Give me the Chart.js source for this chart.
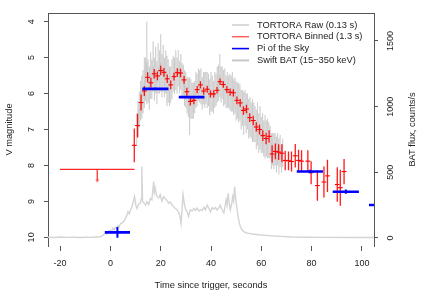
<!DOCTYPE html>
<html><head><meta charset="utf-8">
<script src="https://cdn.jsdelivr.net/npm/chart.js@4.4.1/dist/chart.umd.min.js"></script>
<style>html,body{margin:0;padding:0;background:#fff;}canvas{display:block;}</style>
</head><body>
<canvas id="c" width="427" height="291"></canvas>
<script>
// ---------------- data ----------------
const xTickValues   = [-20, 0, 20, 40, 60, 80, 100];
const magTickValues = [4, 5, 6, 7, 8, 9, 10];
const batTickValues = [0, 500, 1000, 1500];

// TORTORA binned (1.3 s)
const binnedTime = [9.5,10.8,12.2,13.5,14.8,16.1,17.4,18.7,20.0,21.3,22.6,24.0,25.3,26.6,27.9,29.3,30.4,31.8,33.2,34.5,35.8,37.1,38.5,39.8,41.1,42.4,43.6,44.9,46.3,47.6,48.9,50.3,51.6,52.9,54.1,55.4,56.8,58.0,59.3,60.6,61.9,63.1,64.3,65.6,66.9,68.2,69.5,70.8,72.0,73.5,74.8,76.0,78.5,79.8,82.3,84.9,86.3,90.2,91.4,92.9];
const binnedMag  = [7.44,6.89,6.25,5.93,5.55,5.70,5.45,5.51,5.36,5.41,5.59,5.76,5.53,5.42,5.43,5.62,5.95,6.22,6.19,5.89,5.76,5.93,5.88,6.01,6.01,5.91,5.67,5.75,5.89,5.96,5.98,6.19,6.26,6.47,6.43,6.67,6.75,6.93,7.00,7.17,7.25,7.19,7.68,7.61,7.63,7.66,7.86,7.87,7.89,7.73,7.86,7.88,7.88,8.20,8.56,8.46,8.29,8.53,8.62,8.17];
const binnedErr  = [0.47,0.33,0.22,0.14,0.14,0.13,0.13,0.12,0.13,0.12,0.12,0.12,0.11,0.12,0.12,0.11,0.11,0.11,0.11,0.10,0.10,0.10,0.10,0.10,0.10,0.09,0.09,0.09,0.10,0.10,0.10,0.11,0.11,0.12,0.12,0.12,0.13,0.13,0.14,0.15,0.16,0.17,0.24,0.22,0.22,0.25,0.27,0.26,0.28,0.33,0.30,0.30,0.30,0.32,0.42,0.43,0.45,0.48,0.50,0.35];

// TORTORA upper limit before the flash
const limitFrom = [-20];
const limitTo   = [9.6];
const limitMag  = [8.11];
const arrowTime = [-5.2];
const arrowLen  = [0.31];

// TORTORA raw (0.13 s), read as a sampled band
const rawTime = [10.5,11,11.5,12,12.5,13,13.5,14,14.5,15,15.5,16,16.5,17,17.5,18,18.5,19,19.5,20,20.5,21,21.5,22,22.5,23,23.5,24,24.5,25,25.5,26,26.5,27,27.5,28,28.5,29,29.5,30,30.5,31,31.5,32,32.5,33,33.5,34,34.5,35,35.5,36,36.5,37,37.5,38,38.5,39,39.5,40,40.5,41,41.5,42,42.5,43,43.5,44,44.5,45,45.5,46,46.5,47,47.5,48,48.5,49,49.5,50,50.5,51,51.5,52,52.5,53,53.5,54,54.5,55,55.5,56,56.5,57,57.5,58,58.5,59,59.5,60,60.5,61,61.5,62,62.5,63,63.5,64,64.5,65,65.5,66,66.5,67,67.5,68,68.5];
const rawMag = [7.0,6.7,6.45,6.2,6.1,5.95,5.7,5.6,5.15,5.65,
  5.85,5.5,5.6,5.25,5.6,5.35,5.7,5.3,5.4,5.15,
  5.5,5.3,5.55,5.4,5.65,5.65,5.8,5.75,5.6,5.45,
  5.5,5.35,5.5,5.3,5.55,5.4,5.65,5.65,5.85,5.9,
  6.05,6.1,6.35,6.15,6.2,6.2,6.1,5.9,5.9,5.75,
  5.8,5.8,6.0,5.85,5.9,5.85,5.9,5.9,6.1,5.95,
  6.0,6.1,5.9,5.9,5.75,5.7,5.5,5.75,5.7,5.85,
  5.8,5.95,5.9,5.95,5.95,6.0,5.95,6.1,6.05,6.2,
  6.2,6.25,6.25,6.45,6.4,6.55,6.4,6.55,6.5,6.7,
  6.65,6.75,6.75,6.8,6.85,7.0,6.85,7.1,6.95,7.15,
  7.1,7.25,7.2,7.25,7.25,7.3,7.35,7.6,7.55,7.6,
  7.55,7.7,7.55,7.75,7.6,7.8,7.65];
const rawErr = [0.45,0.5,0.5,0.55,0.6,0.6,0.7,0.6,1.15,0.6,
  0.6,0.65,0.55,0.7,0.6,0.65,0.6,0.7,0.6,0.8,
  0.6,0.65,0.55,0.6,0.7,0.6,0.55,0.5,0.55,0.5,
  0.5,0.55,0.5,0.5,0.45,0.5,0.5,0.45,0.5,0.5,
  0.5,0.55,0.8,0.55,0.5,0.5,0.45,0.5,0.45,0.45,
  0.45,0.5,0.45,0.45,0.5,0.45,0.5,0.45,0.5,0.55,
  0.5,0.45,0.5,0.45,0.5,0.5,0.6,0.5,0.45,0.5,
  0.5,0.45,0.5,0.45,0.5,0.5,0.55,0.5,0.5,0.55,
  0.5,0.55,0.5,0.55,0.5,0.6,0.5,0.55,0.5,0.55,
  0.55,0.5,0.6,0.55,0.5,0.55,0.6,0.55,0.6,0.5,
  0.55,0.5,0.6,0.5,0.55,0.5,0.45,0.5,0.45,0.5,
  0.45,0.5,0.45,0.5,0.45,0.4,0.4];

// Pi of the Sky
const piTime    = [2.8,17.9,32.3,79.3,93.6,107.8];
const piHalf    = [5.0,5.2,5.1,5.2,5.2,5.0];
const piMag     = [9.86,5.87,6.10,8.17,8.73,9.10];
const piMagErr  = [0.15,0.03,0.03,0.05,0.06,0.05];

// Swift BAT (15-350 keV), counts/s
const batTime = [-25,-22,-20,-17,-15,-12,-10,-8,-6,-4,-3,-2,-1.5,-1,0,0.5,1,1.5,2,2.5,3,3.5,4,5,5.5,6,6.5,7,7.5,8,8.6,9.2,9.6,10.1,10.6,11.2,11.9,12.3,12.5,12.8,13.5,14.0,14.5,15.2,15.9,16.5,17.2,17.5,17.8,18.4,19.2,19.8,20.5,21.2,21.8,22.5,23.2,23.8,24.5,25.1,25.8,26.5,27.1,27.6,28.1,28.5,28.9,29.4,29.8,30.5,31.1,31.8,32.5,33.2,33.8,34.5,35.2,35.8,36.5,37.2,37.8,38.5,39.2,39.8,40.5,41.1,41.8,42.4,43.1,43.7,44.4,45.1,45.6,46.0,46.4,46.8,47.2,47.7,48.2,48.6,49.0,49.4,49.8,50.1,50.5,50.8,51.2,51.7,52.3,53.0,54.0,55.0,56.5,58.0,60.0,62.0,65.0,68.0,72.0,78.0,85.0,95.0,105];
const batCounts = [6,4,7,5,6,4,6,5,7,9,20,38,30,50,58,45,75,62,80,70,95,85,108,120,135,150,170,200,185,215,240,285,315,250,225,255,265,300,545,280,262,250,276,255,300,290,430,350,380,320,305,330,280,315,300,285,265,275,250,240,225,215,195,170,110,220,330,260,225,200,165,215,205,225,210,228,205,215,210,235,215,250,225,198,230,220,232,212,228,250,215,190,240,290,250,340,270,215,260,315,280,392,300,260,200,160,120,85,62,48,40,35,30,27,23,20,15,12,8,6,5,4,4];

// ---------------- helpers ----------------
function vSeg(xs, c, e) { const o = []; xs.forEach((x, i) => { o.push({x, y: c[i] - e[i]}, {x, y: c[i] + e[i]}, {x, y: null}); }); return o; }
function hSeg(xs, ys, h) { const o = []; xs.forEach((x, i) => { o.push({x: x - h[i], y: ys[i]}, {x: x + h[i], y: ys[i]}, {x, y: null}); }); return o; }
function hSpan(a, b, ys) { const o = []; a.forEach((x, i) => { o.push({x, y: ys[i]}, {x: b[i], y: ys[i]}, {x, y: null}); }); return o; }
function pts(xs, ys) { return xs.map((x, i) => ({x, y: ys[i]})); }
const setTicks = (vals) => (s) => { s.ticks = vals.map(v => ({value: v})); };
const plain = (v) => String(v);

const FONT = '"Liberation Sans", Arial, Helvetica, sans-serif';
const AX = '#555';
const RED = '#ff0000', BLUE = '#0000ff';

const line = (o) => Object.assign({showLine: true, pointRadius: 0, spanGaps: false, fill: false, tension: 0}, o);

const datasets = [
  line({label: 'Pi of the Sky', data: hSeg(piTime, piMag, piHalf), borderColor: BLUE, borderWidth: 2.6, legend: 1, legendWidth: 1.6}),
  line({data: vSeg(piTime, piMag, piMagErr), borderColor: BLUE, borderWidth: 2}),
  line({label: 'TORTORA Binned (1.3 s)', data: vSeg(binnedTime, binnedMag, binnedErr), borderColor: 'rgba(255,0,0,0.9)', borderWidth: 1.3, legend: 1, legendWidth: 1}),
  {data: pts(binnedTime, binnedMag), showLine: false, pointStyle: 'line', pointRadius: 2.4, pointBorderColor: RED, pointBorderWidth: 1.1},
  line({data: hSpan(limitFrom, limitTo, limitMag), borderColor: 'rgba(255,30,30,0.95)', borderWidth: 1.4}),
  line({data: vSeg(arrowTime, limitMag.map((m, i) => m + arrowLen[i] / 2), arrowLen.map(l => l / 2)), borderColor: 'rgba(255,60,60,0.8)', borderWidth: 1}),
  {data: pts(arrowTime, limitMag.map((m, i) => m + arrowLen[i])), showLine: false, pointStyle: 'triangle', rotation: 180, pointRadius: 1.6, pointBorderColor: 'rgba(255,60,60,0.8)', pointBackgroundColor: 'rgba(0,0,0,0)', pointBorderWidth: 0.8},
  line({label: 'TORTORA Raw (0.13 s)', data: vSeg(rawTime, rawMag, rawErr), borderColor: 'rgba(150,150,150,0.2)', borderWidth: 1, legend: 1, legendColor: '#b4b4b4', legendWidth: 1}),
  line({data: pts(rawTime, rawMag), borderColor: 'rgba(160,160,160,0.28)', borderWidth: 0.8}),
  line({label: 'Swift BAT (15\u2212350 keV)', data: pts(batTime, batCounts), yAxisID: 'y2', borderColor: '#d4d4d4', borderWidth: 1.4, legend: 1, legendColor: '#c8c8c8', legendWidth: 2})
];
const legendOrder = [7, 2, 0, 9];

const legendPlugin = {
  id: 'rlegend',
  afterDraw(chart) {
    const ctx = chart.ctx;
    ctx.save();
    ctx.font = '9.3px ' + FONT;
    ctx.textBaseline = 'middle';
    ctx.textAlign = 'left';
    legendOrder.forEach((di, k) => {
      const d = chart.data.datasets[di];
      const y = 25 + k * 11.8;
      ctx.strokeStyle = d.legendColor || d.borderColor;
      ctx.lineWidth = d.legendWidth || 1;
      ctx.beginPath(); ctx.moveTo(232, y); ctx.lineTo(249, y); ctx.stroke();
      ctx.fillStyle = '#222';
      ctx.fillText(d.label, 257, y);
    });
    // right axis title (reads bottom to top)
    const a = chart.chartArea;
    ctx.translate(412, (a.top + a.bottom) / 2);
    ctx.rotate(-Math.PI / 2);
    ctx.textAlign = 'center';
    ctx.fillText(chart.options.scales.y2.titleText, 0, 0);
    ctx.restore();
  }
};

const tickFont = {family: FONT, size: 9};
new Chart(document.getElementById('c'), {
  type: 'scatter',
  data: {datasets},
  plugins: [legendPlugin],
  options: {
    responsive: false, animation: false, devicePixelRatio: 1,
    layout: {padding: 0},
    plugins: {legend: {display: false}, tooltip: {enabled: false}},
    scales: {
      x: {type: 'linear', position: 'bottom', min: -24.8, max: 104.8,
        afterBuildTicks: setTicks(xTickValues),
        ticks: {callback: plain, font: tickFont, color: '#222', padding: 7, maxRotation: 0, autoSkip: false},
        grid: {drawOnChartArea: false, tickLength: 5, color: AX},
        border: {display: false},
        title: {display: true, text: 'Time since trigger, seconds', font: {family: FONT, size: 9.3}, color: '#222', padding: {top: 0, bottom: 0}},
        afterFit(s) { s.height = 45; }},
      x2: {type: 'linear', position: 'top', min: -24.8, max: 104.8,
        ticks: {display: false}, grid: {display: false, drawTicks: false},
        border: {display: true, color: AX, width: 1},
        afterFit(s) { s.height = 13; }},
      y: {type: 'linear', position: 'left', reverse: true, min: 3.76, max: 10.24,
        afterBuildTicks: setTicks(magTickValues),
        ticks: {callback: plain, minRotation: 90, maxRotation: 90, crossAlign: 'center', padding: 7, font: tickFont, color: '#222', autoSkip: false},
        grid: {drawOnChartArea: false, tickLength: 4, color: AX},
        border: {display: true, color: AX, width: 1},
        title: {display: true, text: 'V magnitude', font: {family: FONT, size: 9.3}, color: '#222', padding: {top: 4, bottom: 4}},
        afterFit(s) { s.width = 48; }},
      y2: {type: 'linear', position: 'right', min: -61, max: 1713,
        titleText: 'BAT flux, counts/s',
        afterBuildTicks: setTicks(batTickValues),
        ticks: {callback: plain, minRotation: 90, maxRotation: 90, crossAlign: 'center', padding: 3, font: tickFont, color: '#222', autoSkip: false},
        grid: {drawOnChartArea: false, tickLength: 4, color: AX},
        border: {display: true, color: AX, width: 1},
        afterFit(s) { s.width = 53; }}
    }
  }
});
</script>
</body></html>
